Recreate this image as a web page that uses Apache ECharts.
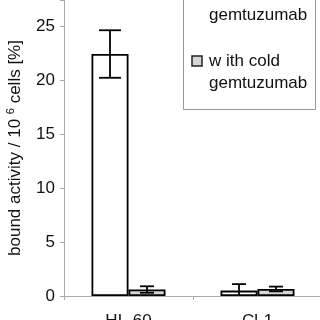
<!DOCTYPE html>
<html><head><meta charset="utf-8">
<script src="https://cdn.jsdelivr.net/npm/echarts@6/dist/echarts.min.js"></script>
<style>html,body{margin:0;padding:0;background:#fff}#c{width:320px;height:320px}</style>
</head><body><div id="c"></div>
<script>
const categories = ['HL-60', 'Cl-1'];
const seriesNames = ['w ithout cold\ngemtuzumab', 'w ith cold\ngemtuzumab'];
const withoutCold = [22.4, 0.5];
const withoutColdErr = [2.2, 0.6];
const withCold = [0.6, 0.65];
const withColdErr = [0.3, 0.22];
const yTicks = [0, 5, 10, 15, 20, 25];

const font = 'Liberation Sans, Arial, sans-serif';
const chart = echarts.init(document.getElementById('c'), null, {renderer: 'canvas'});

function errSeries(vals, errs, offset) {
  return {
    type: 'custom',
    z: 10,
    data: vals.map((v, i) => [i, v, errs[i]]),
    renderItem: function (params, api) {
      const i = api.value(0), v = api.value(1), e = api.value(2);
      const c = api.coord([i, v]);
      const x = c[0] + offset;
      const top = api.coord([i, v + e])[1];
      const lowVal = Math.max(0, v - e);
      const bot = api.coord([i, lowVal])[1];
      const cap = e > 1 ? 11 : 7;
      const children = [
        {type: 'line', shape: {x1: x, y1: top, x2: x, y2: bot}, style: {stroke: '#000', lineWidth: 1.8}},
        {type: 'line', shape: {x1: x - cap, y1: top, x2: x + cap, y2: top}, style: {stroke: '#000', lineWidth: 1.8}}
      ];
      if (v - e > 0) children.push({type: 'line', shape: {x1: x - cap, y1: bot, x2: x + cap, y2: bot}, style: {stroke: '#000', lineWidth: 1.8}});
      return {type: 'group', children: children};
    }
  };
}

chart.setOption({
  animation: false,
  grid: {left: 64, right: -2, top: 0, bottom: 24, containLabel: false, outerBoundsMode: 'none'},
  xAxis: {
    type: 'category', data: categories,
    axisLine: {lineStyle: {color: '#aaa', width: 1}},
    axisTick: {show: true, length: 4, lineStyle: {color: '#aaa'}},
    axisLabel: {color: '#111', fontSize: 17, fontFamily: font, margin: 17}
  },
  yAxis: {
    type: 'value', min: 0, max: 27.4, interval: 5,
    axisLine: {show: true, lineStyle: {color: '#aaa', width: 1}},
    axisTick: {show: true, length: 4, lineStyle: {color: '#aaa'}},
    splitLine: {show: false},
    axisLabel: {color: '#111', fontSize: 17, fontFamily: font, margin: 9,
      formatter: v => yTicks.indexOf(v) >= 0 ? String(v) : ''},
    name: 'bound activity / 10 {sup|6} cells [%]',
    nameLocation: 'middle', nameRotate: 90, nameGap: 39,
    nameTextStyle: {color: '#111', fontSize: 17, fontFamily: font,
      rich: {sup: {fontSize: 11, verticalAlign: 'top', padding: [0, 0, 9, 0], fontFamily: font, color: '#111'}}}
  },
  series: [
    {type: 'bar', name: seriesNames[0], data: withoutCold, barWidth: 37, barGap: '0%',
     itemStyle: {color: '#fff', borderColor: '#000', borderWidth: 1.8}},
    {type: 'bar', name: seriesNames[1], data: withCold, barWidth: 37, barGap: '0%',
     itemStyle: {color: '#d6d6d6', borderColor: '#000', borderWidth: 1.8}},
    errSeries(withoutCold, withoutColdErr, -18.5),
    errSeries(withCold, withColdErr, 18.5)
  ],
  graphic: [
    {type: 'rect', shape: {x: 183.5, y: -60, width: 132, height: 169.5}, style: {fill: '#fff', stroke: '#999', lineWidth: 1}, z: 20},
    {type: 'rect', shape: {x: 192, y: -12, width: 10, height: 10}, style: {fill: '#fff', stroke: '#222', lineWidth: 1.5}, z: 21},
    {type: 'text', x: 209, y: 4, style: {text: seriesNames[0], font: '17px ' + font, fill: '#111', lineHeight: 22, textVerticalAlign: 'middle'}, z: 21},
    {type: 'rect', shape: {x: 192, y: 56, width: 10, height: 10}, style: {fill: '#d6d6d6', stroke: '#222', lineWidth: 1.5}, z: 21},
    {type: 'text', x: 209, y: 50, style: {text: seriesNames[1], font: '17px ' + font, fill: '#111', lineHeight: 22}, z: 21}
  ]
});
</script></body></html>
